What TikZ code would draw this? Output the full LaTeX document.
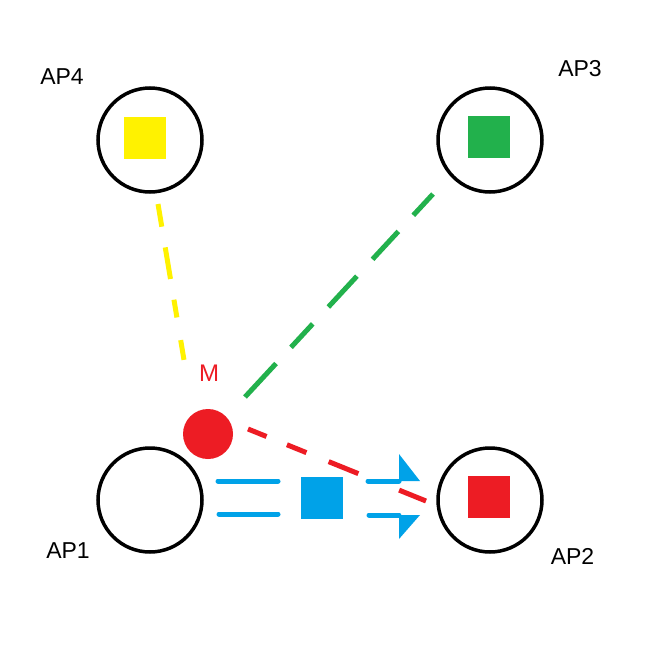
\documentclass[tikz,border=0pt]{standalone}
\usepackage{fontspec}
\setmainfont{Liberation Sans}
\usetikzlibrary{arrows.meta}
\definecolor{pyellow}{HTML}{FFF200}
\definecolor{pgreen}{HTML}{22B14C}
\definecolor{pred}{HTML}{ED1C24}
\definecolor{pblue}{HTML}{00A2E8}
\begin{document}
\begin{tikzpicture}[x=1pt,y=-1pt,
  apcircle/.style={circle,draw=black,line width=3.5pt,minimum size=104pt,inner sep=0pt},
  apsquare/.style={rectangle,minimum size=42pt,inner sep=0pt},
  lbl/.style={font=\fontsize{23}{27}\selectfont,inner sep=0pt},
  dline/.style={line width=5pt},
  bline/.style={pblue,line width=5pt,line cap=round}]
\useasboundingbox[fill=white] (0,0) rectangle (648,648);
% access points
\node[apcircle] (ap4) at (150,140) {};
\node[apcircle] (ap3) at (490,140) {};
\node[apcircle] (ap1) at (150,500) {};
\node[apcircle] (ap2) at (490,500) {};
\node[apsquare,fill=pyellow] (sq4) at (145,138) {};
\node[apsquare,fill=pgreen] (sq3) at (489,137) {};
\node[apsquare,fill=pred] (sq2) at (489,497) {};
\node[apsquare,fill=pblue] (pkt) at (321.5,498) {};
% labels
\node[lbl] (l4) at (62,77) {AP4};
\node[lbl] (l3) at (580,69) {AP3};
\node[lbl] (l1) at (68,550.5) {AP1};
\node[lbl] (l2) at (572.5,556.5) {AP2};
% mobile
\node[circle,fill=pred,minimum size=50pt,inner sep=0pt] (m) at (208,434) {};
\node[lbl,text=pred,font=\fontsize{24}{28}\selectfont] (ml) at (209,373) {M};
% dashed links
\coordinate (y1) at (158,204);
\coordinate (y2) at (184,360);
\coordinate (g1) at (433,194);
\coordinate (g2) at (245,397);
\coordinate (r1) at (248,429);
\coordinate (r2) at (426,501);
\draw[dline,pyellow,dash pattern=on 23pt off 21pt on 32pt off 21pt on 18pt off 23pt on 20pt] (y1) -- (y2);
\draw[dline,pgreen,dash pattern=on 29pt off 22pt on 38pt off 23pt on 42pt off 23pt on 32pt off 22pt on 50pt] (g1) -- (g2);
\draw[dline,pred,dash pattern=on 20pt off 22pt on 21pt off 24pt on 32pt off 44pt on 35pt] (r1) -- (r2);
% blue transfer
\coordinate (b1a) at (218,481);
\coordinate (b1b) at (278,481);
\coordinate (b2a) at (219,514);
\coordinate (b2b) at (278,514);
\coordinate (b3a) at (368,481);
\coordinate (b3b) at (420,481);
\coordinate (b4a) at (369,515);
\coordinate (b4b) at (420,515);
\draw[bline] (b1a) -- (b1b);
\draw[bline] (b2a) -- (b2b);
\draw[bline,-{Triangle[left,length=21pt,width=54pt,line width=0pt]}] (b3a) -- (b3b);
\draw[bline,-{Triangle[right,length=21pt,width=48pt,line width=0pt]}] (b4a) -- (b4b);
\end{tikzpicture}
\end{document}
